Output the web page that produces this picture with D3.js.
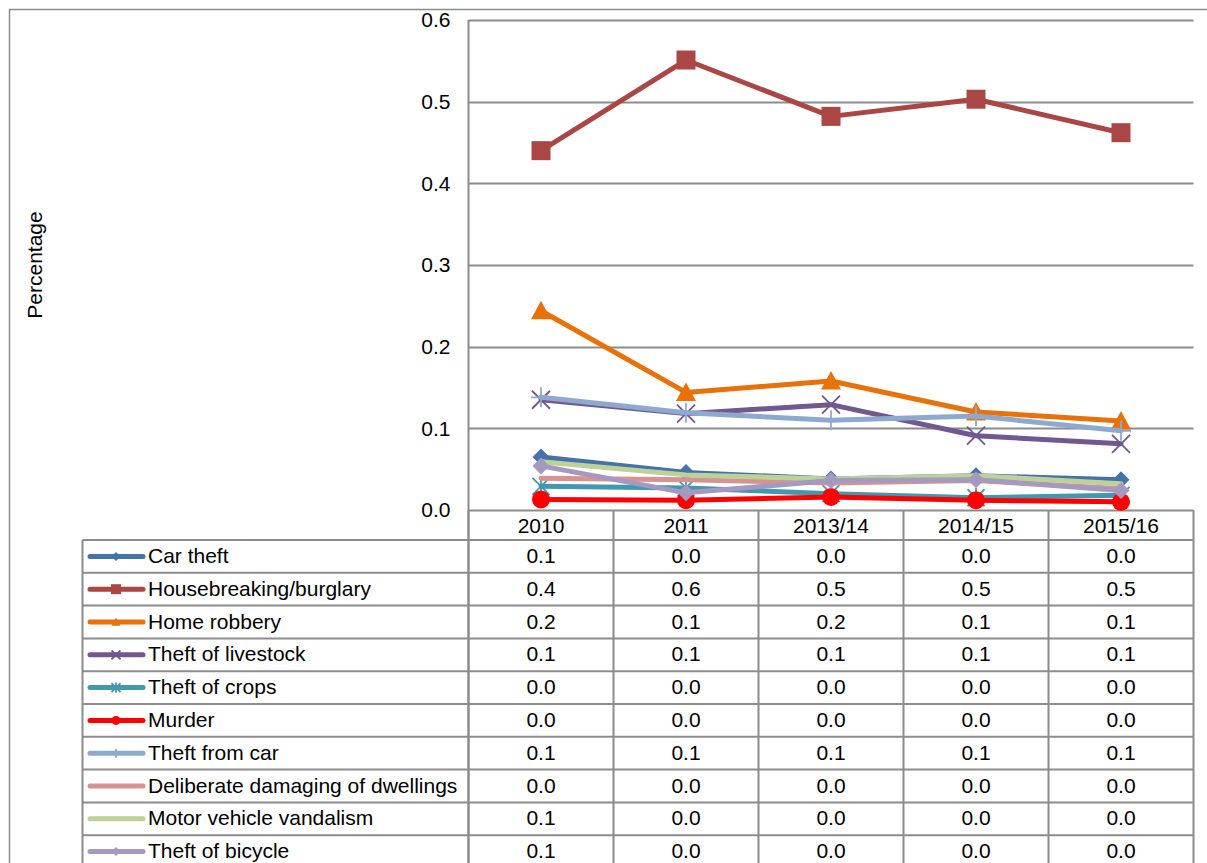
<!DOCTYPE html>
<html>
<head>
<meta charset="utf-8">
<script src="https://cdn.jsdelivr.net/npm/d3@7"></script>
<style>
  html, body { margin: 0; padding: 0; background: #fff; }
  svg { display: block; font-family: "Liberation Sans", Arial, sans-serif; }
</style>
</head>
<body>
<svg id="chart" width="1207" height="863"></svg>
<script>
// Survey periods (x categories)
const periods = ["2010", "2011", "2013/14", "2014/15", "2015/16"];

// Y axis tick values
const yTicks = [0, 0.1, 0.2, 0.3, 0.4, 0.5, 0.6];

// Series names, in drawing order
const seriesNames = [
  "Car theft",
  "Housebreaking/burglary",
  "Home robbery",
  "Theft of livestock",
  "Theft of crops",
  "Murder",
  "Theft from car",
  "Deliberate damaging of dwellings",
  "Motor vehicle vandalism",
  "Theft of bicycle"
];

// Percentage values per series
const carTheft        = [0.065, 0.046, 0.038, 0.042, 0.037];
const housebreaking   = [0.440, 0.551, 0.482, 0.503, 0.462];
const homeRobbery     = [0.244, 0.144, 0.158, 0.120, 0.109];
const theftLivestock  = [0.135, 0.118, 0.129, 0.091, 0.081];
const theftCrops      = [0.029, 0.027, 0.020, 0.015, 0.018];
const murder          = [0.013, 0.012, 0.016, 0.012, 0.010];
const theftFromCar    = [0.138, 0.119, 0.110, 0.115, 0.097];
const damagingDwell   = [0.039, 0.037, 0.033, 0.036, 0.026];
const vehicleVandal   = [0.059, 0.043, 0.038, 0.042, 0.032];
const theftBicycle    = [0.054, 0.021, 0.036, 0.037, 0.024];

const seriesValues = [carTheft, housebreaking, homeRobbery, theftLivestock, theftCrops,
                      murder, theftFromCar, damagingDwell, vehicleVandal, theftBicycle];

// Styling per series
const colors = ["#4572A7", "#AA4643", "#E8710A", "#71588F", "#4198AF",
                "#FF0000", "#8EA9D0", "#D69391", "#BCD298", "#A699C0"];
const markers = ["diamond", "square", "triangle", "x", "asterisk",
                 "circle", "plus", "none", "none", "diamond"];

const series = seriesNames.map((name, i) => ({
  name, values: seriesValues[i], color: colors[i], marker: markers[i]
}));

const svg = d3.select("#chart");
const W = 1207, H = 863;
const gridColor = "#8c8c8c";
const fontSize = 21;

// Layout
const plotLeft = 468.5, plotRight = 1193.5, plotTop = 20, plotBottom = 510;
const tableLeft = 82.5, headerBottom = 540, rowH = 32.8;

// Outer frame
svg.append("rect")
  .attr("x", 9.5).attr("y", 9.5)
  .attr("width", W + 20).attr("height", H + 20)
  .attr("fill", "none").attr("stroke", "#8c8c8c").attr("stroke-width", 1.5);

const x = d3.scaleBand().domain(periods).range([plotLeft, plotRight]);
const xc = d => x(d) + x.bandwidth() / 2;
const y = d3.scaleLinear().domain([0, 0.6]).range([plotBottom, plotTop]);

// Gridlines
svg.append("g").selectAll("line").data(yTicks).join("line")
  .attr("x1", plotLeft).attr("x2", plotRight)
  .attr("y1", d => Math.round(y(d)) + 0.5).attr("y2", d => Math.round(y(d)) + 0.5)
  .attr("stroke", gridColor).attr("stroke-width", 2);

// Y axis labels
const yAxis = d3.axisLeft(y).tickValues(yTicks).tickFormat(d3.format(".1f")).tickSize(0).tickPadding(18);
const yg = svg.append("g").attr("transform", `translate(${plotLeft},0)`).call(yAxis);
yg.select(".domain").remove();
yg.selectAll("text").attr("font-size", fontSize).attr("fill", "#000")
  .attr("font-family", "'Liberation Sans', Arial, sans-serif");

// Y axis line (plot left edge extends through the data table)
svg.append("line")
  .attr("x1", plotLeft).attr("x2", plotLeft)
  .attr("y1", plotTop).attr("y2", H + 10)
  .attr("stroke", gridColor).attr("stroke-width", 2);

// Y axis title
svg.append("text")
  .attr("transform", `translate(42,265) rotate(-90)`)
  .attr("text-anchor", "middle")
  .attr("font-size", fontSize).text("Percentage");

// ---- Data table ----
const nRows = series.length;
const tableBottom = headerBottom + rowH * nRows;
const tg = svg.append("g");

// Column dividers (header row + body)
const colEdges = periods.map(p => x(p)).concat([plotRight]);
tg.selectAll("line.col").data(colEdges).join("line").attr("class", "col")
  .attr("x1", d => d).attr("x2", d => d)
  .attr("y1", plotBottom).attr("y2", tableBottom)
  .attr("stroke", gridColor).attr("stroke-width", 2);

// Left edge of legend column
tg.append("line")
  .attr("x1", tableLeft).attr("x2", tableLeft)
  .attr("y1", headerBottom).attr("y2", tableBottom)
  .attr("stroke", gridColor).attr("stroke-width", 2);

// Horizontal row lines
const rowEdges = d3.range(nRows + 1).map(i => headerBottom + i * rowH);
tg.selectAll("line.row").data(rowEdges).join("line").attr("class", "row")
  .attr("x1", tableLeft).attr("x2", plotRight)
  .attr("y1", d => d).attr("y2", d => d)
  .attr("stroke", gridColor).attr("stroke-width", 2);

// Header labels
tg.selectAll("text.hdr").data(periods).join("text").attr("class", "hdr")
  .attr("x", d => xc(d)).attr("y", (plotBottom + headerBottom) / 2 + 7.5)
  .attr("text-anchor", "middle").attr("font-size", fontSize).text(d => d);

// Marker drawing
function drawMarker(g, type, color, s) {
  const h = s / 2;
  if (type === "diamond") {
    g.append("path").attr("d", `M0,${-h}L${h},0L0,${h}L${-h},0Z`).attr("fill", color);
  } else if (type === "square") {
    g.append("rect").attr("x", -h).attr("y", -h).attr("width", s).attr("height", s).attr("fill", color);
  } else if (type === "triangle") {
    g.append("path").attr("d", `M0,${-h}L${h},${h * 0.85}L${-h},${h * 0.85}Z`).attr("fill", color);
  } else if (type === "circle") {
    g.append("circle").attr("r", h).attr("fill", color);
  } else if (type === "x") {
    g.append("path").attr("d", `M${-h},${-h}L${h},${h}M${-h},${h}L${h},${-h}`)
      .attr("stroke", color).attr("stroke-width", 1.8).attr("fill", "none");
  } else if (type === "asterisk") {
    g.append("path").attr("d", `M${-h},${-h}L${h},${h}M${-h},${h}L${h},${-h}M0,${-h * 1.15}L0,${h * 1.15}`)
      .attr("stroke", color).attr("stroke-width", 1.8).attr("fill", "none");
  } else if (type === "plus") {
    g.append("path").attr("d", `M${-h},0L${h},0M0,${-h}L0,${h}`)
      .attr("stroke", color).attr("stroke-width", 1.8).attr("fill", "none");
  }
}

const fmt = d3.format(".1f");

// Rows: legend key, name and values
series.forEach((s, i) => {
  const cy = headerBottom + i * rowH + rowH / 2;
  const key = tg.append("g");
  key.append("line").attr("x1", 90).attr("x2", 143).attr("y1", cy).attr("y2", cy)
    .attr("stroke", s.color).attr("stroke-width", 5).attr("stroke-linecap", "round");
  const mk = key.append("g").attr("transform", `translate(116,${cy})`);
  drawMarker(mk, s.marker, s.color, s.marker === "square" ? 10 : 9);
  tg.append("text").attr("x", 148).attr("y", cy + 6.5)
    .attr("font-size", fontSize).attr("textLength", null).text(s.name);
  tg.selectAll(null).data(s.values).join("text")
    .attr("x", (d, j) => xc(periods[j])).attr("y", cy + 6.5)
    .attr("text-anchor", "middle").attr("font-size", fontSize)
    .text(d => fmt(d));
});

// ---- Lines and markers ----
const line = d3.line().x((d, j) => xc(periods[j])).y(d => y(d));
const lg = svg.append("g");
const markerSize = { diamond: 17, square: 19, triangle: 20, circle: 18, x: 18, asterisk: 17, plus: 20 };

series.forEach(s => {
  const g = lg.append("g");
  g.append("path").datum(s.values).attr("d", line)
    .attr("fill", "none").attr("stroke", s.color).attr("stroke-width", 5)
    .attr("stroke-linejoin", "round").attr("stroke-linecap", "round");
  if (s.marker !== "none") {
    s.values.forEach((v, j) => {
      const m = g.append("g").attr("transform", `translate(${xc(periods[j])},${y(v)})`);
      drawMarker(m, s.marker, s.color, markerSize[s.marker]);
    });
  }
});
</script>
</body>
</html>
